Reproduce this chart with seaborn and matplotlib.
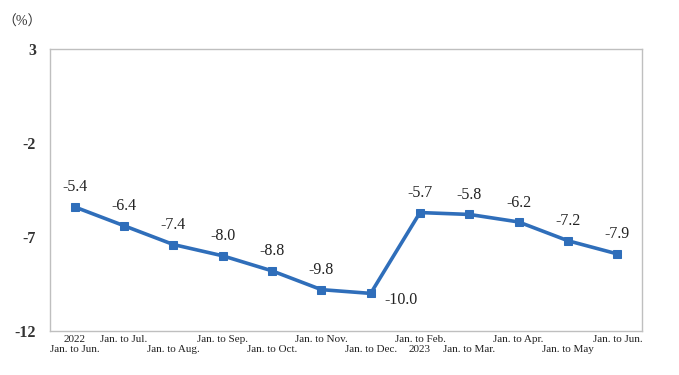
import matplotlib
matplotlib.use("Agg")
import matplotlib.pyplot as plt
import seaborn as sns
import pandas as pd
import numpy as np
from matplotlib.ticker import FixedLocator

# 数据
periods = ["2022\nJan. to Jun.", "Jan. to Jul.", "Jan. to Aug.", "Jan. to Sep.",
           "Jan. to Oct.", "Jan. to Nov.", "Jan. to Dec.", "Jan. to Feb.\n2023",
           "Jan. to Mar.", "Jan. to Apr.", "Jan. to May", "Jan. to Jun."]
growth = [-5.4, -6.4, -7.4, -8.0, -8.8, -9.8, -10.0, -5.7, -5.8, -6.2, -7.2, -7.9]
y_ticks = [3, -2, -7, -12]

sns.set_theme(style="white")
plt.rcParams['font.family'] = ['Liberation Serif', 'Noto Sans CJK SC', 'DejaVu Sans']

df = pd.DataFrame({'pos': np.arange(len(periods)), 'value': growth})

fig = plt.figure(figsize=(6.79, 3.75), dpi=100)
ax = fig.add_axes([50 / 679, 1 - 331 / 375, 592 / 679, 282 / 375])

blue = '#2F6EBA'
sns.lineplot(data=df, x='pos', y='value', ax=ax, color=blue, linewidth=2.6,
             marker='s', markersize=5.5, markeredgecolor=blue)

ax.set_xlim(-0.5, len(periods) - 0.5)
ax.set_ylim(min(y_ticks), max(y_ticks))
ax.set_yticks(y_ticks)
ax.set_yticklabels([str(t) for t in y_ticks], fontsize=11.5, fontweight='bold',
                   color='#333333')
ax.set_xlabel('')
ax.set_ylabel('')

# x轴标签: 交错两行
ax.set_xticks(df['pos'])
labels = []
for i, p in enumerate(periods):
    if i == 0 or i == 7:
        labels.append(p)
    elif i % 2 == 1:
        labels.append(p + "\n ")
    else:
        labels.append(" \n" + p)
ax.set_xticklabels(labels, fontsize=8, color='#222222', linespacing=1.15)
ax.tick_params(axis='x', which='major', length=0, pad=3)
ax.xaxis.set_minor_locator(FixedLocator(np.arange(0.5, len(periods) - 0.5, 1)))
ax.tick_params(axis='x', which='minor', direction='in', length=5, color='#BFBFBF', width=0.8)
ax.tick_params(axis='y', which='major', direction='in', length=6, color='#BFBFBF',
               width=0.8, pad=10)

for s in ax.spines.values():
    s.set_color('#BFBFBF')
    s.set_linewidth(1.0)

# 数据标签
for i, v in enumerate(growth):
    if i == 6:
        ax.annotate(f"{v:.1f}", (i, v), xytext=(22, -5), textcoords='offset points',
                    ha='center', va='center', fontsize=11.5, color='#222222')
    else:
        ax.annotate(f"{v:.1f}", (i, v), xytext=(0, 14), textcoords='offset points',
                    ha='center', va='center', fontsize=11.5, color='#222222')

fig.text(22 / 679, 1 - 22 / 375, "（%）", fontsize=10, ha='center', va='center',
         color='#333333')

fig.savefig('out.png', dpi=100)
